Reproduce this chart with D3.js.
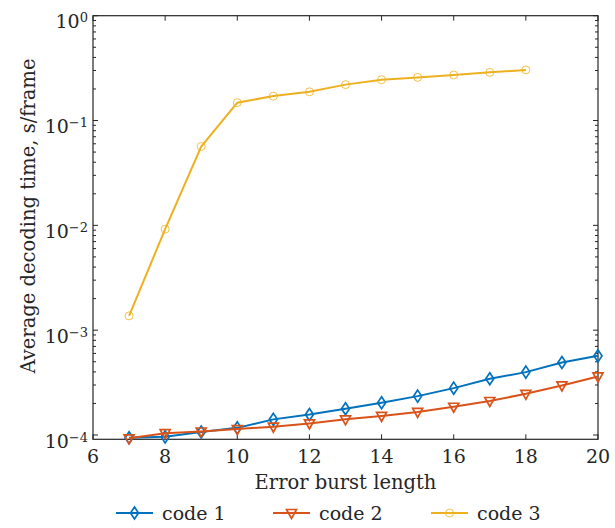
<!DOCTYPE html>
<html><head><meta charset="utf-8">
<script src="https://cdn.jsdelivr.net/npm/d3@7"></script>
<style>body{margin:0;background:#fff}svg{display:block}text{font-family:"DejaVu Serif",serif;fill:#262626}</style>
</head><body><svg id="c" width="615" height="528"></svg>
<script>
const xs = [7,8,9,10,11,12,13,14,15,16,17,18,19,20];
const code1 = [9.4e-5,9.6e-5,1.07e-4,1.17e-4,1.41e-4,1.57e-4,1.78e-4,2.03e-4,2.35e-4,2.80e-4,3.44e-4,3.98e-4,4.92e-4,5.69e-4];
const code2 = [9.3e-5,1.04e-4,1.08e-4,1.14e-4,1.20e-4,1.29e-4,1.41e-4,1.52e-4,1.66e-4,1.86e-4,2.11e-4,2.47e-4,2.97e-4,3.62e-4];
const xs3 = [7,8,9,10,11,12,13,14,15,16,17,18];
const code3 = [1.37e-3,9.2e-3,0.0565,0.148,0.171,0.188,0.220,0.245,0.258,0.272,0.288,0.304];
const xTicks = [6,8,10,12,14,16,18,20];
const yExps = [0,-1,-2,-3,-4];
const names = ["code 1","code 2","code 3"];
const colors = ["#0072BD","#D95319","#EDB120"];

const svg = d3.select("#c");
const L=93,R=598,T=15.7,B=439.3;
const x = d3.scaleLinear().domain([6,20]).range([L,R]);
const y = d3.scaleLog().domain([9.1e-5,1]).range([B,T]);
const ax = "#262626";
const FS = 19;

const g = svg.append("g");
const minors=[];
for(let e=-5;e<0;e++) for(let m=1;m<10;m++){const v=m*Math.pow(10,e); if(v>=9.1e-5&&v<=1) minors.push({v,major:m===1});}
minors.push({v:1,major:true});
minors.forEach(d=>{
  const len=d.major?5:3, yy=y(d.v);
  g.append("line").attr("x1",L).attr("x2",L+len).attr("y1",yy).attr("y2",yy).attr("stroke",ax).attr("stroke-width",1);
  g.append("line").attr("x1",R).attr("x2",R-len).attr("y1",yy).attr("y2",yy).attr("stroke",ax).attr("stroke-width",1);
});
xTicks.forEach(t=>{
  const xx=x(t);
  g.append("line").attr("x1",xx).attr("x2",xx).attr("y1",B).attr("y2",B-5).attr("stroke",ax);
  g.append("line").attr("x1",xx).attr("x2",xx).attr("y1",T).attr("y2",T+5).attr("stroke",ax);
  g.append("text").attr("x",xx).attr("y",463).attr("text-anchor","middle").attr("font-size",FS).text(t);
});
yExps.forEach(e=>{
  const t=g.append("text").attr("x",L-5).attr("y",y(Math.pow(10,e))+12.5).attr("text-anchor","end").attr("font-size",FS);
  t.append("tspan").text("10");
  t.append("tspan").attr("dy",-6).attr("font-size",13).text(e===0?"0":"\u2212"+(-e));
});
g.append("rect").attr("x",L).attr("y",T).attr("width",R-L).attr("height",B-T).attr("fill","none").attr("stroke",ax).attr("stroke-width",1.2);

const line=d3.line().x(d=>x(d[0])).y(d=>y(d[1]));
const series=[
  {xs:xs,vs:code1,c:colors[0],m:"diamond"},
  {xs:xs,vs:code2,c:colors[1],m:"tri"},
  {xs:xs3,vs:code3,c:colors[2],m:"circle"}
];
function marker(sel,m,c){
  if(m==="diamond") sel.append("path").attr("d","M0,-6L4,0L0,6L-4,0Z").attr("fill","none").attr("stroke",c).attr("stroke-width",1.7);
  else if(m==="tri") sel.append("path").attr("d","M-5,-3.5L5,-3.5L0,5.5Z").attr("fill","none").attr("stroke",c).attr("stroke-width",1.7);
  else sel.append("circle").attr("r",4).attr("fill","none").attr("stroke",c).attr("stroke-width",0.8);
}
series.forEach(s=>{
  const pts=s.xs.map((v,i)=>[v,s.vs[i]]);
  svg.append("path").attr("d",line(pts)).attr("fill","none").attr("stroke",s.c).attr("stroke-width",2);
  pts.forEach(p=>{marker(svg.append("g").attr("transform",`translate(${x(p[0])},${y(p[1])})`),s.m,s.c);});
});

svg.append("text").attr("x",(L+R)/2).attr("y",489).attr("text-anchor","middle").attr("font-size",FS+0.5).text("Error burst length");
svg.append("text").attr("transform",`translate(35,${216}) rotate(-90)`).attr("text-anchor","middle").attr("font-size",FS+0.5).text("Average decoding time, s/frame");

const lx=[116,273,431];
names.forEach((n,i)=>{
  const gg=svg.append("g").attr("transform",`translate(${lx[i]},513)`);
  gg.append("line").attr("x1",0).attr("x2",37).attr("stroke",colors[i]).attr("stroke-width",2);
  marker(gg.append("g").attr("transform","translate(18.5,0)"),series[i].m,colors[i]);
  gg.append("text").attr("x",46).attr("y",6.5).attr("font-size",FS).text(n);
});
</script></body></html>
